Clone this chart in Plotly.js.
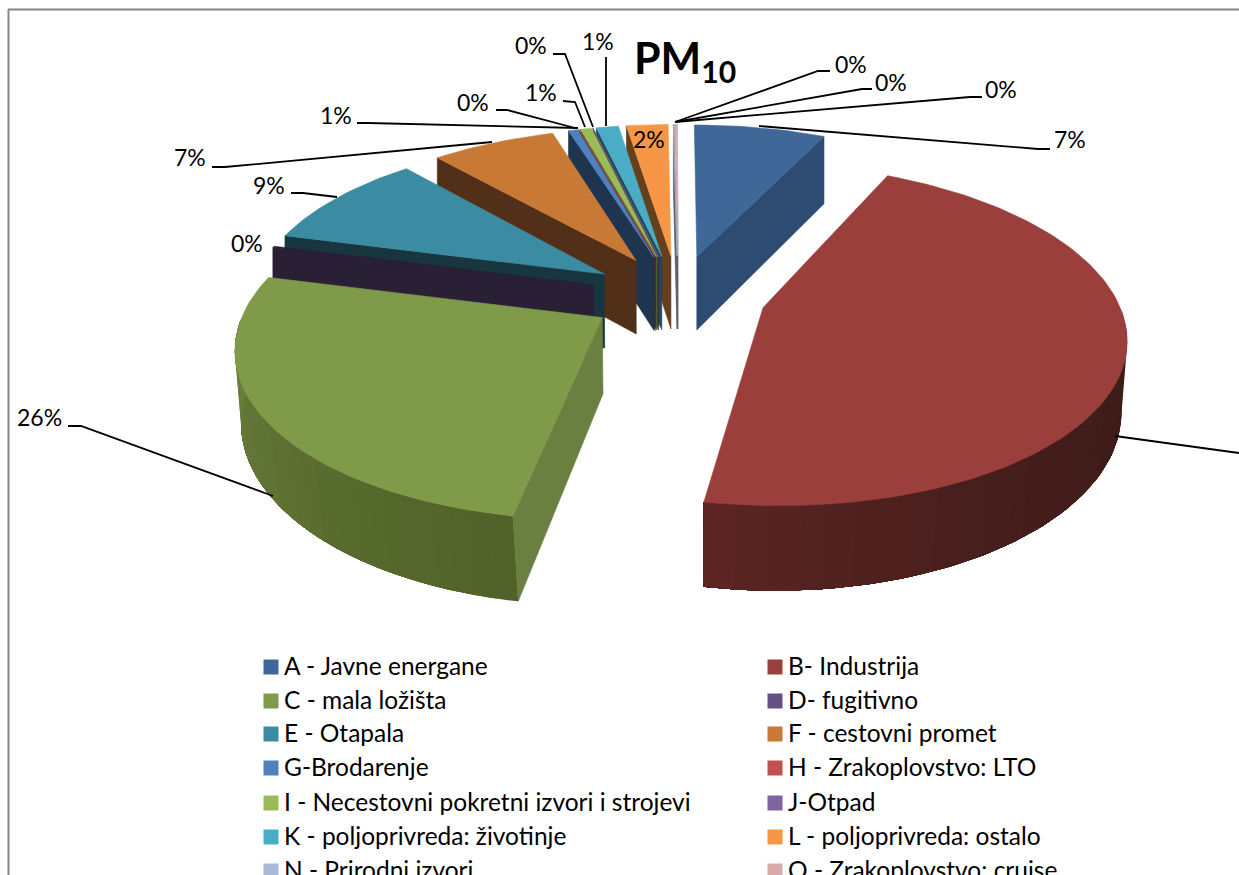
<!DOCTYPE html>
<html><head><meta charset="utf-8">
<script src="https://cdn.plot.ly/plotly-3.0.1.min.js"></script>
<style>html,body{margin:0;padding:0;background:#fff;overflow:hidden}#c{width:1239px;height:875px}</style>
</head><body><div id="c"></div>
<script>
// ---- data ----
const categories = ["A - Javne energane","B- Industrija","C - mala ložišta","D- fugitivno","E - Otapala","F - cestovni promet","G-Brodarenje","H - Zrakoplovstvo: LTO","I - Necestovni pokretni izvori i strojevi","J-Otpad","K - poljoprivreda: životinje","L - poljoprivreda: ostalo","N - Prirodni izvori","O - Zrakoplovstvo: cruise",""];
const values = [7.1,45.7,26.1,0.15,9.4,6.7,0.5,0.02,0.6,0.03,1.2,2.25,0.02,0.15,0.03];
// ---- styles ----
const topColors  = ["#3f6797","#9b3f3d","#7f9a48","#2a2035","#3b8ba3","#c87936","#4f81bd","#c0504d","#9bbb59","#8064a2","#4bacc6","#f79646","#aabad7","#d9aaa9","#d0d8e8"];
const legendColors = ["#3f6797","#9b3f3d","#7f9a48","#664f85","#3b8ba3","#c87936","#4f81bd","#c0504d","#9bbb59","#8064a2","#4bacc6","#f79646","#aabad7","#d9aaa9","#d0d8e8"];
const sideColors = ["#2e4c72","#3e1c1a","#6a8040","#2a2035","#17363f","#512f18","#1e344f","#4a1f1e","#4f6127","#3a2c4c","#1f4a58","#65401e","#5a6274","#5a5060","#5a5060"];
const radiusScale= [1,1,1,0.99,1,1,1,1,1,1,1,1,1,1,1];
const wallFrom   = {1:"#3c1b19",2:"#6f8441"};
const wallTo     = {1:"#5e2624",2:"#4f6127"};
const labelPos = [[1070,139],null,[39,417],[247,243],[269,185],[190,157],[336,115],[473,102],[541,92],[531,45],[598,41],[649,139],[851,64],[891,82],[1001,89]];
const leaders = [
 [[1050,149],[1038,149],[759,126]],
 [[1239,453],[1115,436]],
 [[68,426],[81,426],[273,496]],
 [[291,193],[303,193],[337,197]],
 [[212,167],[225,167],[492,142]],
 [[357,123],[368,123],[578,128]],
 [[496,110],[507,110],[575,128]],
 [[563,101],[575,102],[585,127]],
 [[553,54],[565,54],[593,127]],
 [[606,57],[606,126]],
 [[830,71],[818,71],[675,122]],
 [[872,89],[862,89],[675,122]],
 [[982,97],[970,97],[675,122]]
];
const legendCols=[263,767], legendRows=[665,699,732,766,801,835,869];
const FONT='Lato, "Open Sans", sans-serif';
// ---- projection ----
const X0=678,Y0=295,A=353,B=163,K=0.155,EXPL=0.25,START=0;
function P(x,y,z){
  const s=1/(1-K*y), narrow=1-z*0.03*Math.max(0,(y+0.3)/1.3);
  return [X0+A*x*s*narrow,Y0+B*y*s+z*(25+50*s)];
}
function hex(c){return [1,3,5].map(i=>parseInt(c.substr(i,2),16));}
function mix(a,b,f){const p=hex(a),q=hex(b);return 'rgb('+p.map((v,i)=>Math.round(v+(q[i]-v)*f)).join(',')+')';}
const total=values.reduce((a,b)=>a+b,0);
let acc=START;
const slices=values.map((v,i)=>{const t0=acc,t1=acc+v/total*360;acc=t1;return {i,t0,t1};});
const rad=d=>d*Math.PI/180;
function geom(sl){
  const m=rad((sl.t0+sl.t1)/2), ax=EXPL*Math.sin(m), ay=-EXPL*Math.cos(m), r=radiusScale[sl.i];
  const rim=t=>[ax+r*Math.sin(rad(t)),ay-r*Math.cos(rad(t))];
  return {ax,ay,rim};
}
function poly(pts,color,lw){
  return {type:'scatter',mode:'lines',x:pts.map(p=>p[0]).concat(pts[0][0]),y:pts.map(p=>p[1]).concat(pts[0][1]),
    fill:'toself',fillcolor:color,line:{color:color,width:lw===undefined?0.6:lw},hoverinfo:'skip',showlegend:false};
}
function faces(sl){
  const g=geom(sl),out=[],i=sl.i,a0=P(g.ax,g.ay,0),a1=P(g.ax,g.ay,1);
  const n=Math.max(2,Math.ceil((sl.t1-sl.t0)/1.5));
  const ts=[];for(let j=0;j<=n;j++)ts.push(sl.t0+(sl.t1-sl.t0)*j/n);
  const edge=(t)=>{const r=g.rim(t);return [P(r[0],r[1],0),P(r[0],r[1],1)];};
  if(Math.sin(rad(sl.t0))<0){const e=edge(sl.t0);out.push(poly([a0,e[0],e[1],a1],sideColors[i]));}
  if(Math.sin(rad(sl.t1))>0){const e=edge(sl.t1);out.push(poly([a0,e[0],e[1],a1],sideColors[i]));}
  // outer wall: each band runs on to the wall's end and the next band paints over it, so no seams appear
  const front=ts.filter(t=>Math.cos(rad(t))<0);
  if(front.length>1){
    const bands=wallFrom[i]?24:1;
    for(let b=0;b<bands;b++){
      const from=Math.floor(b*(front.length-1)/bands);
      const part=front.slice(from);
      const mid=front[Math.floor((b+0.5)*(front.length-1)/bands)];
      let col=sideColors[i];
      if(i===1)col=mix(wallFrom[i],wallTo[i],Math.pow((mid-sl.t0)/(sl.t1-sl.t0),4));
      if(i===2)col=mix(wallFrom[i],wallTo[i],(sl.t1-mid)/(sl.t1-sl.t0));
      const up=part.map(t=>edge(t)[0]), dn=part.map(t=>edge(t)[1]).reverse();
      out.push(poly(up.concat(dn),col,0));
    }
  }
  const top=[a0].concat(ts.map(t=>{const r=g.rim(t);return P(r[0],r[1],0);}));
  out.push(poly(top,topColors[i]));
  return out;
}
const order=[0,1,14,13,12,11,10,9,8,7,6,5,4,3,2];
let traces=[];
order.forEach(i=>{traces=traces.concat(faces(slices[i]));});
const lx=[],ly=[];
leaders.forEach(l=>{l.forEach(p=>{lx.push(p[0]);ly.push(p[1]);});lx.push(null);ly.push(null);});
traces.push({type:'scatter',mode:'lines',x:lx,y:ly,line:{color:'#000',width:1.8},hoverinfo:'skip',showlegend:false});
const annotations=[];
const sx=[],sy=[],sc=[];
categories.forEach((c,i)=>{
  if(!c)return;
  const col=legendCols[i%2],row=legendRows[Math.floor(i/2)];
  sx.push(col+8);sy.push(row+2);sc.push(legendColors[i]);
  annotations.push({x:col+19,y:row,xref:'x',yref:'y',text:c,showarrow:false,xanchor:'left',yanchor:'middle',font:{family:FONT,size:24.5,color:'#000'}});
});
traces.push({type:'scatter',mode:'markers',x:sx,y:sy,marker:{symbol:'square',size:15,color:sc},hoverinfo:'skip',showlegend:false});
values.forEach((v,i)=>{
  if(!labelPos[i])return;
  annotations.push({x:labelPos[i][0],y:labelPos[i][1],xref:'x',yref:'y',text:Math.round(v)+'%',showarrow:false,xanchor:'center',yanchor:'middle',font:{family:FONT,size:23,color:'#000'}});
});
const layout={
  width:1239,height:875,margin:{l:0,r:0,t:0,b:0},paper_bgcolor:'#fff',plot_bgcolor:'#fff',showlegend:false,
  title:{text:'PM<sub>10</sub>',x:634/1239,xanchor:'left',y:1-59/875,yanchor:'middle',yref:'container',font:{family:FONT,size:43,color:'#000',weight:700}},
  xaxis:{range:[0,1239],visible:false,fixedrange:true},
  yaxis:{range:[875,0],visible:false,fixedrange:true},
  annotations,
  shapes:[
   {type:'line',xref:'x',yref:'y',x0:8.5,x1:8.5,y0:9,y1:875,line:{color:'#868686',width:2}},
   {type:'line',xref:'x',yref:'y',x0:8,x1:1239,y0:9.5,y1:9.5,line:{color:'#868686',width:2}}
  ]
};
Plotly.newPlot('c',traces,layout,{displayModeBar:false,staticPlot:true});
</script></body></html>
